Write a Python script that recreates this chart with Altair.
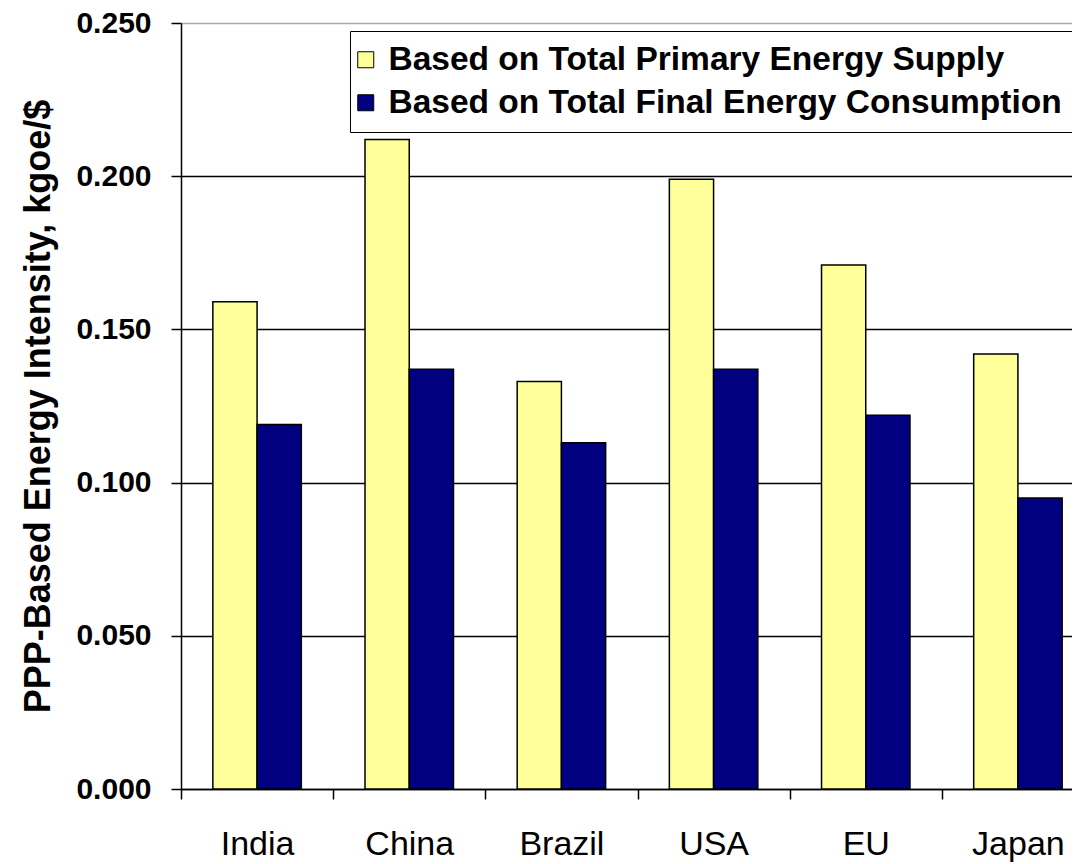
import altair as alt
import pandas as pd

countries = ["India", "China", "Brazil", "USA", "EU", "Japan"]
series = ["Based on Total Primary Energy Supply", "Based on Total Final Energy Consumption"]
tpes = [0.159, 0.212, 0.133, 0.199, 0.171, 0.142]
tfc = [0.119, 0.137, 0.113, 0.137, 0.122, 0.095]
y_ticks = [0.0, 0.05, 0.10, 0.15, 0.20, 0.25]
colors = ["#FFFF99", "#000080"]

rows = []
for c, a, b in zip(countries, tpes, tfc):
    rows.append({"country": c, "series": series[0], "value": a})
    rows.append({"country": c, "series": series[1], "value": b})
df = pd.DataFrame(rows)

FONT = "Arial, Liberation Sans, sans-serif"

chart = alt.Chart(df).mark_bar(stroke="black", strokeWidth=1.5).encode(
    x=alt.X(
        "country:N",
        sort=countries,
        scale=alt.Scale(paddingInner=0, paddingOuter=0, range=[0, 913]),
        axis=alt.Axis(
            title=None,
            labelAngle=0,
            labelFont=FONT,
            labelFontSize=34,
            labelFontWeight="normal",
            labelColor="black",
            labelPadding=28,
            tickBand="extent",
            tickSize=10,
            tickColor="black",
            tickWidth=1.5,
            domainColor="black",
            domainWidth=1.5,
            grid=False,
        ),
    ),
    xOffset=alt.XOffset("series:N", sort=series, scale=alt.Scale(paddingInner=0, paddingOuter=0.72)),
    y=alt.Y(
        "value:Q",
        scale=alt.Scale(domain=[0, 0.25], nice=False, zero=True),
        axis=alt.Axis(
            title="PPP-Based Energy Intensity, kgoe/$",
            titleFont=FONT,
            titleFontSize=36,
            titleFontWeight="bold",
            titleColor="black",
            titlePadding=18,
            values=y_ticks,
            format=".3f",
            labelFont=FONT,
            labelFontSize=30,
            labelFontWeight="bold",
            labelColor="black",
            labelPadding=20,
            tickSize=10,
            tickColor="black",
            tickWidth=1.5,
            domainColor="black",
            domainWidth=1.5,
            gridColor={"condition": {"test": "datum.value >= 0.25", "value": "#A8A8A8"}, "value": "black"},
            gridWidth=1.5,
        ),
    ),
    color=alt.Color(
        "series:N",
        sort=series,
        scale=alt.Scale(domain=series, range=colors),
        legend=alt.Legend(
            title=None,
            orient="none",
            legendX=169,
            legendY=8,
            fillColor="white",
            strokeColor="black",
            padding=12,
            symbolType="square",
            symbolSize=256,
            symbolStrokeColor="black",
            symbolStrokeWidth=1,
            symbolOpacity=1,
            symbolOffset=-13,
            labelFont=FONT,
            labelFontSize=33.5,
            labelFontWeight="bold",
            labelColor="black",
            labelLimit=2000,
            labelOffset=6,
            rowPadding=8,
        ),
    ),
).properties(
    width=891,
    height=766,
    autosize=alt.AutoSizeParams(type="none"),
    padding={"left": 173, "top": 15, "right": 0, "bottom": 80},
).configure_view(
    fill="#C0C0C0",
    stroke="#A8A8A8",
).configure(background="white")

chart.save("out.html", embed_options={"renderer": "svg", "actions": False})
